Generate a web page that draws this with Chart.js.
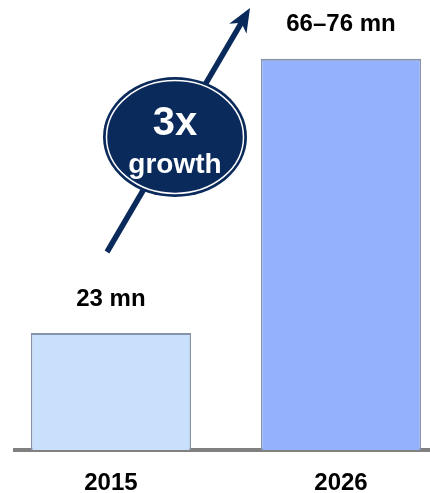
<!DOCTYPE html>
<html lang="en">
<head>
    <meta charset="UTF-8">
    <title>3x growth</title>
    <script src="https://cdn.jsdelivr.net/npm/chart.js@4.4.1/dist/chart.umd.min.js"></script>
    <style>
        body { margin: 0; background: #fff; }
        #wrap { width: 430px; height: 493px; }
    </style>
</head>
<body>
<div id="wrap"><canvas id="chartCanvas"></canvas></div>

<script>
    // chart data
    const categories = ['2015', '2026'];
    const values = [23, 77];
    const valueLabels = ['23 mn', '66\u201376 mn'];
    const barColors = ['#c8e0fb', '#93b1fd'];

    const FONT = '"Liberation Sans", Arial, sans-serif';

    // value labels above the bars + the "3x growth" arrow and badge
    const overlay = {
        id: 'overlay',
        afterDatasetsDraw(chart) {
            const ctx = chart.ctx;
            const bars = chart.getDatasetMeta(0).data;
            ctx.save();

            // labels
            ctx.fillStyle = '#000';
            ctx.font = 'bold 24px ' + FONT;
            ctx.textAlign = 'center';
            ctx.textBaseline = 'middle';
            bars.forEach((bar, i) => ctx.fillText(valueLabels[i], bar.x, bar.y - 34));

            // arrow
            const navy = '#0b2a5c';
            const x0 = 107, y0 = 252, x1 = 250, y1 = 8;
            const len = Math.hypot(x1 - x0, y1 - y0);
            const ux = (x1 - x0) / len, uy = (y1 - y0) / len;
            const nx = -uy, ny = ux;
            ctx.strokeStyle = navy;
            ctx.lineWidth = 5.5;
            ctx.beginPath();
            ctx.moveTo(x0, y0);
            ctx.lineTo(x1 - ux * 14, y1 - uy * 14);
            ctx.stroke();
            ctx.fillStyle = navy;
            ctx.beginPath();
            ctx.moveTo(x1, y1);
            ctx.lineTo(x1 - ux * 24 + nx * 10, y1 - uy * 24 + ny * 10);
            ctx.lineTo(x1 - ux * 17, y1 - uy * 17);
            ctx.lineTo(x1 - ux * 24 - nx * 10, y1 - uy * 24 - ny * 10);
            ctx.closePath();
            ctx.fill();

            // badge
            const cx = 175, cy = 137;
            ctx.beginPath();
            ctx.ellipse(cx, cy, 72, 60, 0, 0, Math.PI * 2);
            ctx.fill();
            ctx.strokeStyle = '#fff';
            ctx.lineWidth = 1.5;
            ctx.beginPath();
            ctx.ellipse(cx, cy, 68.5, 56.5, 0, 0, Math.PI * 2);
            ctx.stroke();

            ctx.fillStyle = '#fff';
            ctx.textBaseline = 'alphabetic';
            ctx.font = 'bold 40px ' + FONT;
            ctx.fillText('3x', cx, 135);
            ctx.font = 'bold 28px ' + FONT;
            ctx.fillText('growth', cx, 173);
            ctx.restore();
        }
    };

    const chart = new Chart(document.getElementById('chartCanvas'), {
        type: 'bar',
        data: {
            datasets: [{
                data: values.map((v, i) => ({ x: i, y: v })),
                backgroundColor: barColors,
                borderColor: '#8593ab',
                borderWidth: { top: 2, left: 1.5, right: 1.5, bottom: 0 },
                borderSkipped: 'bottom',
                categoryPercentage: 1,
                barPercentage: 0.696
            }]
        },
        options: {
            responsive: true,
            maintainAspectRatio: false,
            animation: false,
            layout: { padding: { top: 18, left: 15, right: 0, bottom: 0 } },
            plugins: { legend: { display: false }, tooltip: { enabled: false } },
            scales: {
                x: {
                    type: 'linear',
                    offset: false,
                    min: -0.417,
                    max: 1.387,
                    grid: { display: false },
                    border: { color: '#808080', width: 4 },
                    afterBuildTicks: s => { s.ticks = categories.map((c, i) => ({ value: i })); },
                    afterFit: s => { s.height = 43; },
                    ticks: {
                        padding: 11,
                        color: '#000',
                        font: { family: FONT, size: 24, weight: 'bold' },
                        callback: v => categories[v] ?? ''
                    }
                },
                y: { display: false, min: 0, max: 85 }
            }
        },
        plugins: [overlay]
    });
</script>
</body>
</html>
